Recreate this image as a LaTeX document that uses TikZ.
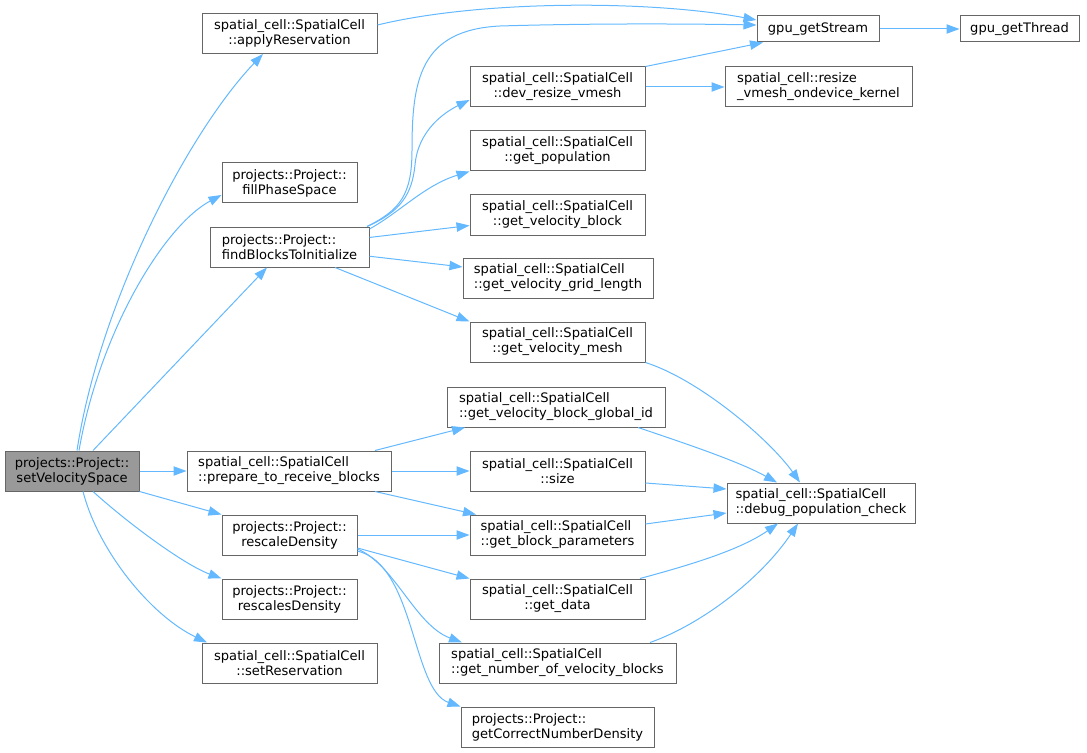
\documentclass[tikz,border=0pt]{standalone}
\usepackage{fontspec}
\setmainfont{DejaVu Sans}
\usetikzlibrary{arrows.meta}
\definecolor{edgeblue}{HTML}{63B8FF}
\definecolor{bord}{HTML}{666666}
\definecolor{mainfill}{HTML}{999999}
\begin{document}
\begin{tikzpicture}[x=0.75pt,y=-0.75pt,
  box/.style={draw=bord, line width=0.75pt, fill=white, rectangle, inner xsep=2pt, inner ysep=1pt,
    minimum height=30pt, font=\fontsize{9.8pt}{11.25pt}\selectfont, align=center, text=black},
  lbox/.style={box, align=left},
  bw/.style={minimum width=#1*0.75pt},
  call/.style={draw=edgeblue, line width=0.75pt, -{Triangle[length=9.75pt,width=7pt]}},
]
\useasboundingbox (0,0) rectangle (1087,752);

% nodes
\node[box,bw=134,fill=mainfill] (svs) at (72,471) {projects::Project::\\setVelocitySpace};
\node[box,bw=175] (apply) at (289.5,33.5) {spatial\_cell::SpatialCell\\::applyReservation};
\node[box,bw=135] (fill) at (289.5,183) {projects::Project::\\fillPhaseSpace};
\node[lbox,bw=159] (find) at (289.5,247) {projects::Project::\\findBlocksToInitialize};
\node[lbox,bw=204] (prep) at (289,471) {spatial\_cell::SpatialCell\\::prepare\_to\_receive\_blocks};
\node[box,bw=135] (rescale) at (289.5,535) {projects::Project::\\rescaleDensity};
\node[box,bw=135] (rescales) at (289.5,599) {projects::Project::\\rescalesDensity};
\node[box,bw=175] (setres) at (289.5,663) {spatial\_cell::SpatialCell\\::setReservation};

\node[box,bw=175] (dev) at (557.5,87) {spatial\_cell::SpatialCell\\::dev\_resize\_vmesh};
\node[box,bw=175] (pop) at (557.5,151) {spatial\_cell::SpatialCell\\::get\_population};
\node[box,bw=175] (vblock) at (557.5,215) {spatial\_cell::SpatialCell\\::get\_velocity\_block};
\node[lbox,bw=190] (grid) at (558,278) {spatial\_cell::SpatialCell\\::get\_velocity\_grid\_length};
\node[box,bw=175] (mesh) at (557.5,342) {spatial\_cell::SpatialCell\\::get\_velocity\_mesh};
\node[lbox,bw=218] (gid) at (556,407) {spatial\_cell::SpatialCell\\::get\_velocity\_block\_global\_id};
\node[box,bw=175] (size) at (557.5,471) {spatial\_cell::SpatialCell\\::size};
\node[lbox,bw=175] (bparam) at (557.5,535) {spatial\_cell::SpatialCell\\::get\_block\_parameters};
\node[box,bw=175] (data) at (557.5,599) {spatial\_cell::SpatialCell\\::get\_data};
\node[lbox,bw=237] (nblocks) at (557.5,663) {spatial\_cell::SpatialCell\\::get\_number\_of\_velocity\_blocks};
\node[lbox,bw=193] (correct) at (557.5,727) {projects::Project::\\getCorrectNumberDensity};

\node[box,bw=122,minimum height=19.5pt] (stream) at (818,29) {gpu\_getStream};
\node[box,bw=119,minimum height=19.5pt] (thread) at (1019.5,29) {gpu\_getThread};
\node[lbox,bw=187] (kernel) at (818.5,87) {spatial\_cell::resize\\\_vmesh\_ondevice\_kernel};
\node[lbox,bw=188] (debug) at (821,503) {spatial\_cell::SpatialCell\\::debug\_population\_check};

% edges from setVelocitySpace
\draw[call] (svs.north -| 77,0) .. controls (100,300) and (190,130) .. (apply.south -| 263,0);
\draw[call] (svs.north -| 79,0) .. controls (100,330) and (165,225) .. (fill.west |- 0,195);
\draw[call] (svs.north -| 93,0) -- (find.south -| 267,0);
\draw[call] (svs) -- (prep);
\draw[call] (svs.south east) -- (rescale.north west);
\draw[call] (svs.south -| 93,0) .. controls (130,525) and (185,565) .. (rescales.north west);
\draw[call] (svs.south -| 83,0) .. controls (98,550) and (150,615) .. (setres.north -| 207,0);

% top area
\draw[call] (apply.east |- 0,25) .. controls (480,0) and (650,0) .. (stream.west |- 0,20);
\draw[call] (find.north -| 367,0) .. controls (400,210) and (412,195) .. (412,150)
  .. controls (412,80) and (420,30) .. (500,26) .. controls (600,23) and (700,24) .. (stream.west |- 0,25);
\draw[call] (find.north -| 367,0) .. controls (400,212) and (412,195) .. (415,165)
  .. controls (418,130) and (445,112) .. (dev.west |- 0,100);
\draw[call] (find.east |- 0,229) .. controls (400,212) and (425,185) .. (pop.south west);
\draw[call] (find) -- (vblock);
\draw[call] (find) -- (grid);
\draw[call] (find.south -| 335,0) -- (mesh.north west);
\draw[call] (dev.north east) -- (stream.south -| 763,0);
\draw[call] (dev) -- (kernel);
\draw[call] (stream) -- (thread);

% lower area
\draw[call] (mesh.south east) .. controls (700,380) and (770,440) .. (debug.north -| 800,0);
\draw[call] (prep.north -| 375,0) -- (gid.south -| 465,0);
\draw[call] (prep) -- (size);
\draw[call] (prep.south -| 375,0) -- (bparam.north -| 476,0);
\draw[call] (rescale) -- (bparam);
\draw[call] (rescale.east |- 0,548) -- (data.north west);
\draw[call] (rescale.east |- 0,549) .. controls (395,565) and (415,625) .. (nblocks.north -| 462,0);
\draw[call] (rescale.east |- 0,551) .. controls (415,565) and (412,690) .. (correct.north west);
\draw[call] (gid.south -| 638,0) .. controls (690,445) and (740,462) .. (debug.north -| 777,0);
\draw[call] (size.east |- 0,483) -- (debug.west |- 0,489);
\draw[call] (bparam.east |- 0,524) -- (debug.west |- 0,513);
\draw[call] (data.north -| 640,0) .. controls (690,565) and (740,550) .. (debug.south -| 778,0);
\draw[call] (nblocks.north -| 650,0) .. controls (700,625) and (760,580) .. (debug.south -| 798,0);
\end{tikzpicture}
\end{document}
